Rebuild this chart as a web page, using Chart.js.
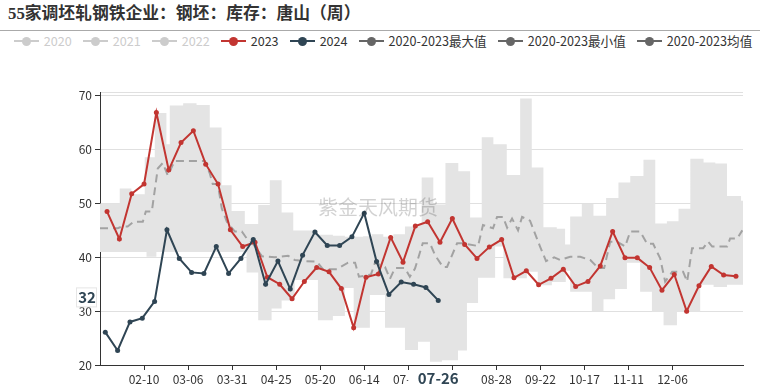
<!DOCTYPE html>
<html><head><meta charset="utf-8">
<script src="https://cdn.jsdelivr.net/npm/chart.js@4.4.1/dist/chart.umd.min.js"></script>
<style>
html,body{margin:0;padding:0;background:#fff;}
#wrap{position:relative;width:760px;height:390px;overflow:hidden;font-family:"Noto Sans CJK SC","Noto Sans",sans-serif;}
#title{position:absolute;left:8px;top:3px;font-family:"Liberation Serif","Noto Sans CJK SC",serif;font-weight:bold;font-size:16.8px;line-height:22px;color:#333;white-space:nowrap;}
#rule{position:absolute;left:0;top:30px;width:760px;height:0;border-top:1px solid #aaa;}
#legend{position:absolute;left:3px;top:33px;width:760px;height:16px;display:flex;justify-content:center;align-items:center;gap:11px;font-size:12.6px;line-height:16px;}
.item{display:flex;align-items:center;white-space:nowrap;}
.icon{position:relative;width:25px;height:14px;display:inline-block;}
.icon .ln{position:absolute;left:0;width:25px;top:6px;height:2px;}
.icon .dot{position:absolute;left:8px;top:2.5px;width:9px;height:9px;border-radius:50%;}
.txt{margin-left:5px;}
#c{position:absolute;left:0;top:0;}
</style></head>
<body>
<div id="wrap">
  <div id="title">55家调坯轧钢铁企业：钢坯：库存：唐山（周）</div>
  <div id="rule"></div>
  <div id="legend"></div>
  <canvas id="c" width="760" height="390"></canvas>
</div>
<script>
// ---------- data ----------
const axisOrigin = '01-16';
const xTickLabels = ['02-10','03-06','03-31','04-25','05-20','06-14','07-09','08-03','08-28','09-22','10-17','11-11','12-06'];
const yTicks = [20, 30, 40, 50, 60, 70];
const yMin = 20, yMax = 70.7;

const legendNames = ['2020','2021','2022','2023','2024','2020-2023最大值','2020-2023最小值','2020-2023均值'];
const legendColors = ['#cccccc','#cccccc','#cccccc','#c23531','#2f4554','#666666','#666666','#666666'];
const legendTextColors = ['#cccccc','#cccccc','#cccccc','#333333','#333333','#333333','#333333','#333333'];

const start2023 = '01-20';
const values2023 = [48.5,43.4,51.8,53.6,66.9,56.2,61.3,63.5,57.3,53.6,
  45.1,42.0,42.8,36.3,35.0,32.3,35.5,38.1,37.3,34.2,
  26.9,36.3,36.9,43.7,39.1,45.8,46.6,42.8,47.2,42.4,
  39.8,41.9,43.3,36.2,37.5,34.9,36.1,37.8,34.6,35.5,
  38.4,44.8,39.9,39.9,38.1,33.9,36.8,30.0,34.7,38.3,
  36.7,36.5];

const start2024 = '01-19';
const values2024 = [26.1,22.7,28.0,28.7,31.8,45.1,39.8,37.2,37.0,42.0,
  37.0,39.8,43.3,35.0,39.3,34.1,40.4,44.7,42.2,42.2,
  43.8,48.2,39.2,33.1,35.4,35.0,34.4,32.0];

// 2020-2023 max / min (step changes, in days from axis origin)
const maxDays = [0,11.2,17.8,25.4,31.1,37.7,39.6,47.2,54.8,62.3,
  69.0,74.7,82.2,89.8,96.4,103.1,109.7,123.7,132.2,139,
  149.3,154.2,160.8,166.5,173.1,180.5,182.6,189.2,196.1,203.4,
  210.1,216.7,223.3,230.9,238.5,245.1,251.7,259.3,264,266.9,
  273.5,280.1,287.3,294.3,301,308.5,315.2,321.8,328.4,335.1,
  342.6,349.3,355.9,363.9,365];
const maxVals = [50.0,52.8,51.7,58.6,66.8,61.0,68.2,68.6,68.3,64.1,
  53.4,48.6,46.2,49.7,54.3,48.3,45.0,44.2,44.0,43.8,
  43.9,44.3,43.8,44.3,45.7,46.0,54.8,49.8,57.5,56.0,
  47.4,62.3,61.0,55.3,69.5,56.7,45.6,45.3,42.4,47.6,
  49.9,47.7,51.0,53.9,55.1,58.1,46.3,46.7,49.0,58.3,
  57.6,57.4,51.4,50.5,50.5];
const minDays = [0,26.4,32.0,83.2,89.8,97.4,103.1,110.5,123.7,132.2,
  139,144.0,153.2,161.8,173.1,180.5,187.3,194.1,203.2,208.3,
  214.6,224.3,229,242.3,248.5,256.5,264.4,266.9,279.2,285.8,
  292.4,299.1,306.6,313.3,319.9,327.5,340.7,348.3,355.9,365];
const minVals = [41.0,40.1,41.0,37.2,28.3,30.5,32.0,35.8,28.3,29.1,
  34.3,26.9,33.0,26.9,22.8,24.3,20.6,20.9,22.7,31.5,
  36.2,42.0,36.1,37.3,34.8,35.4,37.5,33.6,30.0,32.2,
  34.1,39.0,33.6,29.9,27.4,29.9,34.9,34.5,34.9,34.9];

// 2020-2023 mean
const meanDays = [0,10.1,12.3,15.7,19.1,24.3,26,29.4,32.8,35.6,
  38.5,42.4,59.5,62.3,64,66.9,69.1,72,76.5,80.5,
  83.3,86.8,92,99.3,106.7,110.6,116.3,123.1,126.5,134.5,
  140.8,144.8,147,153.8,156.1,161.8,164.6,167.4,173.1,175.9,
  178.8,183.2,187.3,190.2,194.7,197,202.7,206.1,214.6,217.4,
  223.1,225.4,228.8,231.1,233.9,237.3,239.6,244.1,249.8,253.2,
  257.8,261.2,266.9,272.6,278.3,282.8,286.2,289.6,293.6,298.1,
  301,306.6,310.6,314,318,320.8,324.8,331,333.3,336.1,
  342.4,345.2,347.5,356,357.7,361.7,364.6];
const meanVals = [45.4,45.4,45.7,45.7,46.6,46.6,48.5,48.5,56.5,57.5,
  55.2,57.9,57.9,55.6,53.6,53.6,49.1,46.6,44.8,44.8,
  43.5,42.5,40.2,40.0,40.3,39.5,39.3,39.2,37.8,37.8,
  39.0,39.0,36.4,36.8,39.0,38.2,36.0,38.0,38.0,36.4,
  37.9,42.6,42.6,40.4,38.2,38.2,42.6,42.6,42.1,46.0,
  45.4,47.5,47.5,45.5,47.2,45.0,47.5,46.8,42.0,39.3,
  40.0,39.5,40.1,40.1,39.5,38.0,38.0,42.9,42.9,42.0,
  44.8,44.8,42.5,42.5,39.8,35.5,37.3,37.3,35.5,41.7,
  41.7,42.9,42.0,42.0,43.5,43.5,45.0];

const pointerDate = '07-26';
const pointerValue = 32;
const watermark = '紫金天风期货';

// ---------- helpers ----------
function dayIndex(mmdd){
  const [m,d] = mmdd.split('-').map(Number);
  const [om,od] = axisOrigin.split('-').map(Number);
  return Math.round((Date.UTC(2024,m-1,d) - Date.UTC(2024,om-1,od)) / 86400000);
}
const weekly = (start, vals) => vals.map((v,i) => ({x: dayIndex(start) + 7*i, y: v}));
const pairs = (xs, ys) => xs.map((x,i) => ({x: x, y: ys[i]}));

// ---------- legend (HTML) ----------
const lg = document.getElementById('legend');
legendNames.forEach((n,i) => {
  const it = document.createElement('span'); it.className = 'item';
  it.innerHTML = '<span class="icon"><span class="ln" style="background:'+legendColors[i]+'"></span><span class="dot" style="background:'+legendColors[i]+'"></span></span><span class="txt" style="color:'+legendTextColors[i]+'">'+n+'</span>';
  lg.appendChild(it);
});

// ---------- decorations ----------
const decor = {
  id: 'decor',
  afterDatasetsDraw(chart){
    const {ctx} = chart;
    ctx.save();
    ctx.font = '20px "Noto Sans CJK SC", sans-serif';
    ctx.fillStyle = 'rgba(0,0,0,0.18)';
    ctx.textAlign = 'center'; ctx.textBaseline = 'middle';
    ctx.fillText(watermark, 378, 207);
    ctx.restore();
  },
  afterDraw(chart){
    const {ctx} = chart;
    const xs = chart.scales.x, ys = chart.scales.y;
    ctx.save();
    // x pointer label
    const px = xs.getPixelForValue(dayIndex(pointerDate));
    ctx.fillStyle = '#fff';
    ctx.fillRect(px - 30, xs.top + 5, 60, 20);
    ctx.font = 'bold 15px "Noto Sans CJK SC", sans-serif';
    ctx.fillStyle = '#2f4554';
    ctx.textAlign = 'center'; ctx.textBaseline = 'middle';
    ctx.fillText(pointerDate, px, xs.top + 13);
    // y pointer label
    const py = ys.getPixelForValue(pointerValue) - 3;
    ctx.fillStyle = '#fff';
    ctx.fillRect(77, py - 9, 20, 18);
    ctx.strokeStyle = '#e6e6e6'; ctx.lineWidth = 1;
    ctx.strokeRect(76.5, py - 9.5, 20, 19);
    ctx.fillStyle = '#2f4554';
    ctx.fillText(String(pointerValue), 87, py);
    ctx.restore();
  }
};

const tickFont = {family: '"Noto Sans CJK SC", sans-serif', size: 12};

new Chart(document.getElementById('c'), {
  type: 'line',
  data: {
    datasets: [
      {label: '2024', data: weekly(start2024, values2024), borderColor: '#2f4554', backgroundColor: '#2f4554',
       borderWidth: 2, pointRadius: 2.5, pointBorderWidth: 0, pointBackgroundColor: '#2f4554', tension: 0, order: 0, fill: false},
      {label: '2023', data: weekly(start2023, values2023), borderColor: '#c23531', backgroundColor: '#c23531',
       borderWidth: 2, pointRadius: 2.5, pointBorderWidth: 0, pointBackgroundColor: '#c23531', tension: 0, order: 1, fill: false},
      {label: '2020-2023均值', data: pairs(meanDays, meanVals), borderColor: '#a2a2a2', borderDash: [8, 5],
       borderWidth: 2, pointRadius: 0, tension: 0, order: 2, fill: false},
      {label: '2020-2023最大值', data: pairs(maxDays, maxVals), stepped: 'before', borderColor: 'rgba(0,0,0,0)',
       borderWidth: 1, pointRadius: 0, backgroundColor: '#e4e4e4', fill: '+1', order: 3},
      {label: '2020-2023最小值', data: pairs(minDays, minVals), stepped: 'before', borderColor: 'rgba(0,0,0,0)',
       borderWidth: 1, pointRadius: 0, fill: false, order: 4}
    ]
  },
  options: {
    responsive: false, animation: false, events: [],
    layout: {padding: {top: 92, right: 17, left: 0, bottom: 0}},
    plugins: {legend: {display: false}, tooltip: {enabled: false}},
    scales: {
      x: {
        type: 'linear', min: 0, max: 365,
        afterBuildTicks: s => { s.ticks = xTickLabels.map(l => ({value: dayIndex(l)})); },
        afterFit: s => { s.height = 25; },
        ticks: {callback: (v, i) => xTickLabels[i], autoSkip: false, maxRotation: 0, font: tickFont, color: '#333', padding: 2},
        grid: {drawOnChartArea: false, drawTicks: true, tickLength: 5, tickColor: '#333'},
        border: {color: '#333', width: 1}
      },
      y: {
        type: 'linear', min: yMin, max: yMax,
        afterBuildTicks: s => { s.ticks = yTicks.concat([yMax]).map(v => ({value: v})); },
        afterFit: s => { s.width = 100; },
        ticks: {callback: v => (v === yMax ? '' : String(v)), font: tickFont, color: '#333', padding: 3},
        grid: {color: '#e0e0e0', tickLength: 5,
               tickColor: c => (c.tick && c.tick.value === yMax ? 'rgba(0,0,0,0)' : '#333')},
        border: {color: '#333', width: 1}
      }
    }
  },
  plugins: [decor]
});
</script>
</body></html>
